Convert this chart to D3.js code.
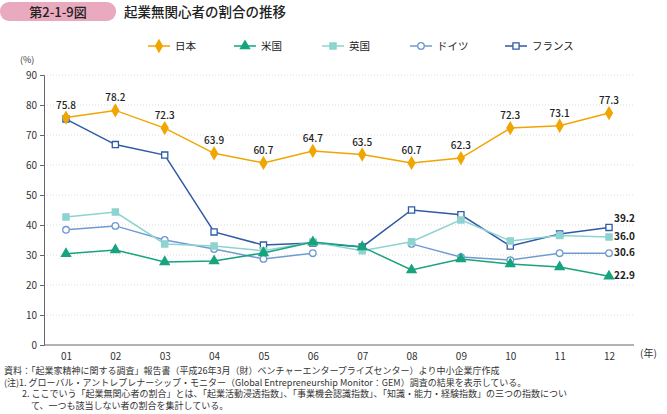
<!DOCTYPE html><html><head><meta charset="utf-8"><script src="https://cdn.jsdelivr.net/npm/d3@7"></script>
<style>body{margin:0;background:#fff;font-family:"Noto Sans CJK JP",sans-serif}</style></head><body><svg id="c" width="667" height="414"></svg>
<script>
const years=["01","02","03","04","05","06","07","08","09","10","11","12"];
const japan=[75.8,78.2,72.3,63.9,60.7,64.7,63.5,60.7,62.3,72.3,73.1,77.3];
const us=[30.4,31.7,27.7,28,30.7,34.3,32.7,25,28.7,27,26,22.9];
const uk=[42.7,44.3,33.7,33,31.4,34.3,31.4,34.4,41.7,34.7,36.5,36.0];
const germany=[38.4,39.7,35,32,28.7,30.6,null,33.7,29.3,28.3,30.6,30.6];
const france=[75.3,66.8,63.3,37.7,33.3,34,32.7,45,43.4,33,37,39.2];
const yTicks=[0,10,20,30,40,50,60,70,80,90];
const series=[
 {name:"日本",data:japan,color:"#f0a500",shape:"diamond",fill:true},
 {name:"米国",data:us,color:"#16a37e",shape:"triangle",fill:true},
 {name:"英国",data:uk,color:"#8dd3cf",shape:"square",fill:true},
 {name:"ドイツ",data:germany,color:"#6f9bd1",shape:"circle",fill:false},
 {name:"フランス",data:france,color:"#2f5aa6",shape:"square",fill:false}];
const svg=d3.select("#c");
const x=d3.scalePoint().domain(years).range([66,609]);
const y=d3.scaleLinear().domain([0,90]).range([345,75]);
svg.append("rect").attr("x",0).attr("y",2).attr("width",116).attr("height",19).attr("rx",9).attr("fill","#e9a9bf");
svg.append("text").attr("x",58).attr("y",16.5).attr("text-anchor","middle").attr("font-size",13).attr("font-weight","500").attr("fill","#222").text("第2-1-9図");
svg.append("text").attr("x",124).attr("y",16.5).attr("font-size",13.5).attr("font-weight","500").attr("fill","#222").text("起業無関心者の割合の推移");
svg.append("g").selectAll("line").data(yTicks.filter(d=>d>0)).join("line")
 .attr("x1",44).attr("x2",634).attr("y1",d=>y(d)).attr("y2",d=>y(d)).attr("stroke","#ddd").attr("stroke-dasharray","1,2");
const ya=svg.append("g").attr("transform","translate(44,0)").call(d3.axisLeft(y).tickValues(yTicks).tickSize(4));
const xa=svg.append("g").attr("transform","translate(0,345)").call(d3.axisBottom(x).tickSize(0).tickPadding(8));
xa.select(".domain").attr("d","M44,0H634");
[ya,xa].forEach(a=>{a.selectAll("text").attr("font-size",10).attr("fill","#333").attr("font-family","Noto Sans CJK JP");a.selectAll("path,line").attr("stroke","#666");});
svg.append("text").attr("x",20).attr("y",63).attr("font-size",9).attr("fill","#333").text("(%)");
svg.append("text").attr("x",640).attr("y",357).attr("font-size",10).attr("fill","#333").text("(年)");
function sym(s){return s.shape==="diamond"?d3.symbol(d3.symbolDiamond,40):s.shape==="triangle"?d3.symbol(d3.symbolTriangle,36):s.shape==="square"?d3.symbol(d3.symbolSquare,38):d3.symbol(d3.symbolCircle,34);}
const line=d3.line().defined(d=>d!=null).x((d,i)=>x(years[i])).y(d=>y(d));
series.slice().reverse().forEach(s=>{
 const g=svg.append("g");
 g.append("path").attr("d",line(s.data)).attr("fill","none").attr("stroke",s.color).attr("stroke-width",1.5);
 g.selectAll("path.m").data(s.data.map((v,i)=>[v,i]).filter(d=>d[0]!=null)).join("path").attr("class","m")
  .attr("d",sym(s)).attr("transform",d=>`translate(${x(years[d[1]])},${y(d[0])})`)
  .attr("fill",s.fill?s.color:"#fff").attr("stroke",s.color).attr("stroke-width",1.3);
});
svg.append("g").selectAll("text").data(japan).join("text").attr("x",(d,i)=>x(years[i])).attr("y",d=>y(d)-9)
 .attr("text-anchor","middle").attr("font-size",10).attr("font-weight","500").attr("fill","#222").text(d=>d.toFixed(1));
[[france,0],[uk,3],[germany,3],[us,3]].forEach(([a,dy])=>{
 svg.append("text").attr("x",614).attr("y",y(a[11])+dy+(a===france?-5:0)).attr("font-size",10).attr("font-weight","bold").attr("fill","#222").text(a[11].toFixed(1));
});
const lx=[148,234,322,410,505];
series.forEach((s,i)=>{
 const g=svg.append("g").attr("transform",`translate(${lx[i]},46)`);
 g.append("line").attr("x1",0).attr("x2",22).attr("stroke",s.color).attr("stroke-width",1.5);
 g.append("path").attr("d",sym(s)).attr("transform","translate(11,0)").attr("fill",s.fill?s.color:"#fff").attr("stroke",s.color).attr("stroke-width",1.3);
 g.append("text").attr("x",27).attr("y",4).attr("font-size",10.5).attr("fill","#222").text(s.name);
});
const notes=["資料：「起業家精神に関する調査」報告書（平成26年3月（財）ベンチャーエンタープライズセンター）より中小企業庁作成",
"(注)1. グローバル・アントレプレナーシップ・モニター（Global Entrepreneurship Monitor：GEM）調査の結果を表示している。",
"　　2. ここでいう「起業無関心者の割合」とは、「起業活動浸透指数」、「事業機会認識指数」、「知識・能力・経験指数」の三つの指数につい",
"　　　て、一つも該当しない者の割合を集計している。"];
svg.append("g").selectAll("text").data(notes).join("text").attr("x",4).attr("y",(d,i)=>374+i*11.5).attr("font-size",9).attr("fill","#333").text(d=>d);
</script></body></html>
